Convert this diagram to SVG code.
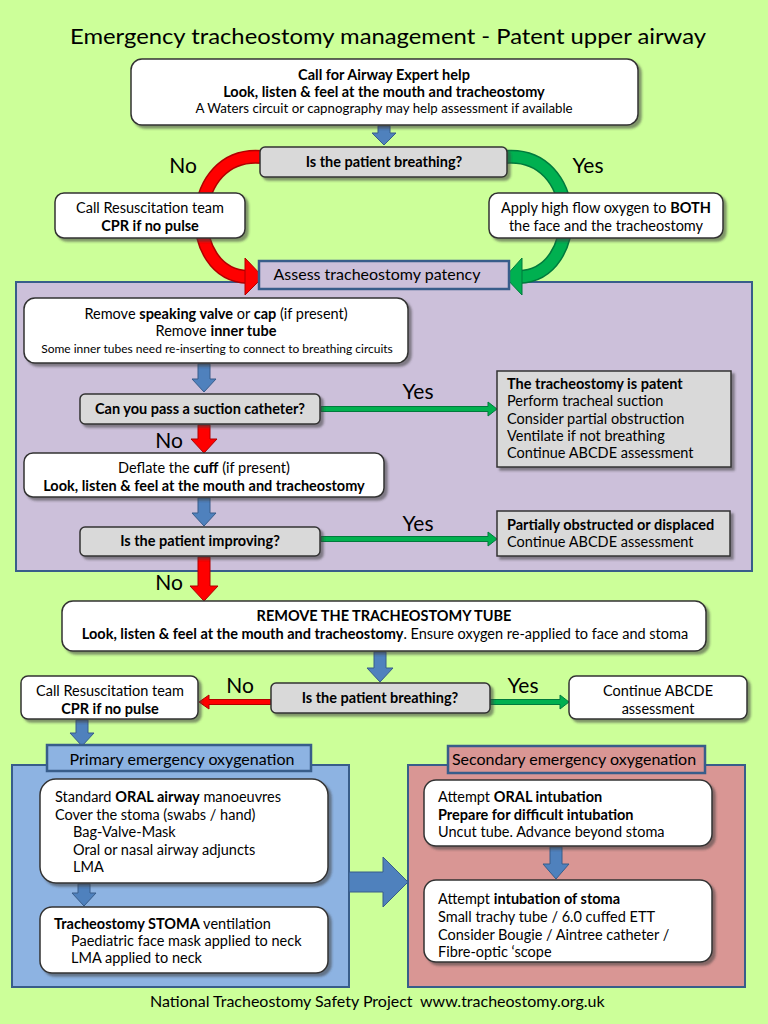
<svg xmlns="http://www.w3.org/2000/svg" width="768" height="1024" viewBox="0 0 768 1024">
<defs>
<filter id="sh" x="-10%" y="-10%" width="130%" height="140%">
<feDropShadow dx="3" dy="3" stdDeviation="1.2" flood-color="#404040" flood-opacity="0.55"/>
</filter>
<style>
text{font-family:Lato,"Liberation Sans",sans-serif;fill:#000;font-size:14.5px}
.c{text-anchor:middle}
.b{font-weight:bold}
.box{fill:#fff;stroke:#333;stroke-width:1.5;filter:url(#sh)}
.dec{fill:#d9d9d9;stroke:#333;stroke-width:1.5;filter:url(#sh)}
.res{fill:#d9d9d9;stroke:#333;stroke-width:1.5;filter:url(#sh)}
.lbl{font-size:21px}
.hdr{font-size:16px}
.blue{fill:#4f81bd;stroke:#385d8a;stroke-width:1}
.red{fill:#ff0000;stroke:#b00000;stroke-width:1}
.grn{fill:#00b050;stroke:#007a3d;stroke-width:1}
.region{stroke:#385d8a;stroke-width:2}
</style>
</defs>
<rect x="0" y="0" width="768" height="1024" fill="#ccff99"/>
<text x="388" y="44" class="c" style="font-size:21px" textLength="636" lengthAdjust="spacingAndGlyphs">Emergency tracheostomy management - Patent upper airway</text>

<!-- regions -->
<g id="patency-region">
<rect x="16" y="282" width="736" height="289" fill="#ccc0da" class="region"/>
</g>
<g id="primary-region">
<rect x="12" y="765" width="337" height="222" fill="#8db3e2" class="region"/>
</g>
<g id="secondary-region">
<rect x="408" y="765" width="337" height="222" fill="#d99694" class="region"/>
</g>

<!-- connectors -->
<g id="connectors">
<path d="M262 157 C185 150 182 275 248 277" fill="none" stroke="#b00000" stroke-width="14"/>
<path d="M262 157 C185 150 182 275 248 277" fill="none" stroke="#ff0000" stroke-width="11"/>
<polygon points="245,258 263,277 245,295" class="red"/>
<path d="M505 157 C582 150 585 275 519 277" fill="none" stroke="#007a3d" stroke-width="14"/>
<path d="M505 157 C582 150 585 275 519 277" fill="none" stroke="#00b050" stroke-width="11"/>
<polygon points="522,258 505,277 522,295" class="grn"/>
<polygon points="378,126 390,126 390,133 396,133 384,145 372,133 378,133" class="blue"/>
<polygon points="198,364 210,364 210,379 216,379 204,392 192,379 198,379" class="blue"/>
<polygon points="321,406.5 488,406.5 488,402 497,409 488,416 488,411.5 321,411.5" class="grn"/>
<polygon points="198,425 210,425 210,439 217,439 204,453 191,439 198,439" class="red"/>
<polygon points="198,498 210,498 210,513 216,513 204,526 192,513 198,513" class="blue"/>
<polygon points="321,536.5 488,536.5 488,532 497,539 488,546 488,541.5 321,541.5" class="grn"/>
<polygon points="198,557 210,557 210,586 218,586 204,601 190,586 198,586" class="red"/>
<polygon points="374,652 386,652 386,668 393,668 380,682 367,668 374,668" class="blue"/>
<polygon points="271,699.5 209,699.5 209,695 199,702 209,709 209,704.5 271,704.5" class="red"/>
<polygon points="490,699.5 560,699.5 560,695 569,702 560,709 560,704.5 490,704.5" class="grn"/>
<polygon points="76,720 88,720 88,733 94,733 82,746 70,733 76,733" class="blue"/>
<polygon points="78,884 90,884 90,893 96,893 84,906 72,893 78,893" class="blue"/>
<polygon points="550,847 562,847 562,864 569,864 556,879 543,864 550,864" class="blue"/>
<polygon points="349,872 383,872 383,857 408,882 383,907 383,892 349,892" class="blue"/>
<text x="183" y="173" class="c lbl">No</text>
<text x="588" y="173" class="c lbl">Yes</text>
<text x="418" y="399" class="c lbl">Yes</text>
<text x="169" y="448" class="c lbl">No</text>
<text x="418" y="531" class="c lbl">Yes</text>
<text x="169" y="590" class="c lbl">No</text>
<text x="240" y="693" class="c lbl">No</text>
<text x="523" y="693" class="c lbl">Yes</text>
</g>

<g id="n-call-expert">
<rect x="131" y="59" width="507" height="66" rx="11" class="box"/>
<text x="384" y="80" class="c b">Call for Airway Expert help</text>
<text x="384" y="97" class="c b">Look, listen &amp; feel at the mouth and tracheostomy</text>
<text x="384" y="113" class="c" style="font-size:13.3px">A Waters circuit or capnography may help assessment if available</text>
</g>

<g id="n-breathing-1">
<rect x="260" y="147" width="247" height="30" rx="5" class="dec"/>
<text x="384" y="167" class="c b">Is the patient breathing?</text>
</g>

<g id="n-resus-1">
<rect x="55" y="193" width="190" height="45" rx="9" class="box"/>
<text x="150" y="213" class="c">Call Resuscitation team</text>
<text x="150" y="231" class="c b">CPR if no pulse</text>
</g>

<g id="n-oxygen">
<rect x="489" y="193" width="234" height="45" rx="9" class="box"/>
<text x="606" y="213" class="c">Apply high flow oxygen to <tspan class="b">BOTH</tspan></text>
<text x="606" y="231" class="c">the face and the tracheostomy</text>
</g>

<g id="n-assess">
<rect x="259" y="261" width="250" height="28" fill="#ccc0da" stroke="#385d8a" stroke-width="2.5"/>
<text x="377" y="280" class="c hdr">Assess tracheostomy patency</text>
</g>

<g id="n-remove-valve">
<rect x="24" y="298" width="384" height="65" rx="11" class="box"/>
<text x="216" y="319" class="c">Remove <tspan class="b">speaking valve</tspan> or <tspan class="b">cap</tspan> (if present)</text>
<text x="216" y="336" class="c">Remove <tspan class="b">inner tube</tspan></text>
<text x="217" y="353" class="c" style="font-size:12px">Some inner tubes need re-inserting to connect to breathing circuits</text>
</g>

<g id="n-suction">
<rect x="80" y="394" width="240" height="30" rx="5" class="dec"/>
<text x="200" y="414" class="c b">Can you pass a suction catheter?</text>
</g>

<g id="n-patent">
<rect x="497" y="371" width="234" height="96" class="res"/>
<text x="507" y="389" class="b">The tracheostomy is patent</text>
<text x="507" y="406">Perform tracheal suction</text>
<text x="507" y="424">Consider partial obstruction</text>
<text x="507" y="441">Ventilate if not breathing</text>
<text x="507" y="458">Continue ABCDE assessment</text>
</g>

<g id="n-deflate">
<rect x="24" y="453" width="360" height="44" rx="9" class="box"/>
<text x="204" y="473" class="c">Deflate the <tspan class="b">cuff</tspan> (if present)</text>
<text x="204" y="491" class="c b">Look, listen &amp; feel at the mouth and tracheostomy</text>
</g>

<g id="n-improving">
<rect x="80" y="527" width="240" height="29" rx="5" class="dec"/>
<text x="200" y="546" class="c b">Is the patient improving?</text>
</g>

<g id="n-partial">
<rect x="497" y="511" width="233" height="45" class="res"/>
<text x="507" y="530" class="b">Partially obstructed or displaced</text>
<text x="507" y="547">Continue ABCDE assessment</text>
</g>

<g id="n-remove-tube">
<rect x="62" y="601" width="644" height="50" rx="11" class="box"/>
<text x="384" y="621" class="c b">REMOVE THE TRACHEOSTOMY TUBE</text>
<text x="385" y="639" class="c"><tspan class="b">Look, listen &amp; feel at the mouth and tracheostomy</tspan>. Ensure oxygen re-applied to face and stoma</text>
</g>

<g id="n-breathing-2">
<rect x="271" y="683" width="219" height="30" rx="5" class="dec"/>
<text x="380" y="703" class="c b">Is the patient breathing?</text>
</g>

<g id="n-resus-2">
<rect x="21" y="676" width="177" height="43" rx="7" class="box"/>
<text x="110" y="696" class="c">Call Resuscitation team</text>
<text x="110" y="714" class="c b">CPR if no pulse</text>
</g>

<g id="n-continue">
<rect x="569" y="676" width="178" height="43" rx="7" class="box"/>
<text x="658" y="696" class="c">Continue ABCDE</text>
<text x="658" y="714" class="c">assessment</text>
</g>

<g id="n-primary-header">
<rect x="47" y="745" width="264" height="26" fill="#8db3e2" stroke="#385d8a" stroke-width="2.5"/>
<text x="182" y="765" class="c hdr">Primary emergency oxygenation</text>
</g>

<g id="n-secondary-header">
<rect x="448" y="746" width="257" height="27" fill="#d99694" stroke="#385d8a" stroke-width="2.5"/>
<text x="574" y="765" class="c hdr">Secondary emergency oxygenation</text>
</g>

<g id="n-oral-airway">
<rect x="40" y="779" width="288" height="104" rx="16" class="box"/>
<text x="55" y="802">Standard <tspan class="b">ORAL airway</tspan> manoeuvres</text>
<text x="55" y="820">Cover the stoma (swabs / hand)</text>
<text x="73" y="837">Bag-Valve-Mask</text>
<text x="73" y="855">Oral or nasal airway adjuncts</text>
<text x="73" y="872">LMA</text>
</g>

<g id="n-stoma-vent">
<rect x="40" y="907" width="288" height="66" rx="12" class="box"/>
<text x="54" y="929"><tspan class="b">Tracheostomy STOMA</tspan> ventilation</text>
<text x="71" y="946">Paediatric face mask applied to neck</text>
<text x="71" y="963">LMA applied to neck</text>
</g>

<g id="n-oral-intubation">
<rect x="424" y="780" width="288" height="66" rx="12" class="box"/>
<text x="438" y="802">Attempt <tspan class="b">ORAL intubation</tspan></text>
<text x="438" y="820" class="b">Prepare for difficult intubation</text>
<text x="438" y="837">Uncut tube. Advance beyond stoma</text>
</g>

<g id="n-stoma-intubation">
<rect x="424" y="880" width="288" height="82" rx="12" class="box"/>
<text x="438" y="904">Attempt <tspan class="b">intubation of stoma</tspan></text>
<text x="438" y="922">Small trachy tube / 6.0 cuffed ETT</text>
<text x="438" y="940">Consider Bougie / Aintree catheter /</text>
<text x="438" y="957">Fibre-optic ‘scope</text>
</g>

<text x="150" y="1007" class="hdr">National Tracheostomy Safety Project</text>
<text x="420" y="1007" class="hdr">www.tracheostomy.org.uk</text>
</svg>
